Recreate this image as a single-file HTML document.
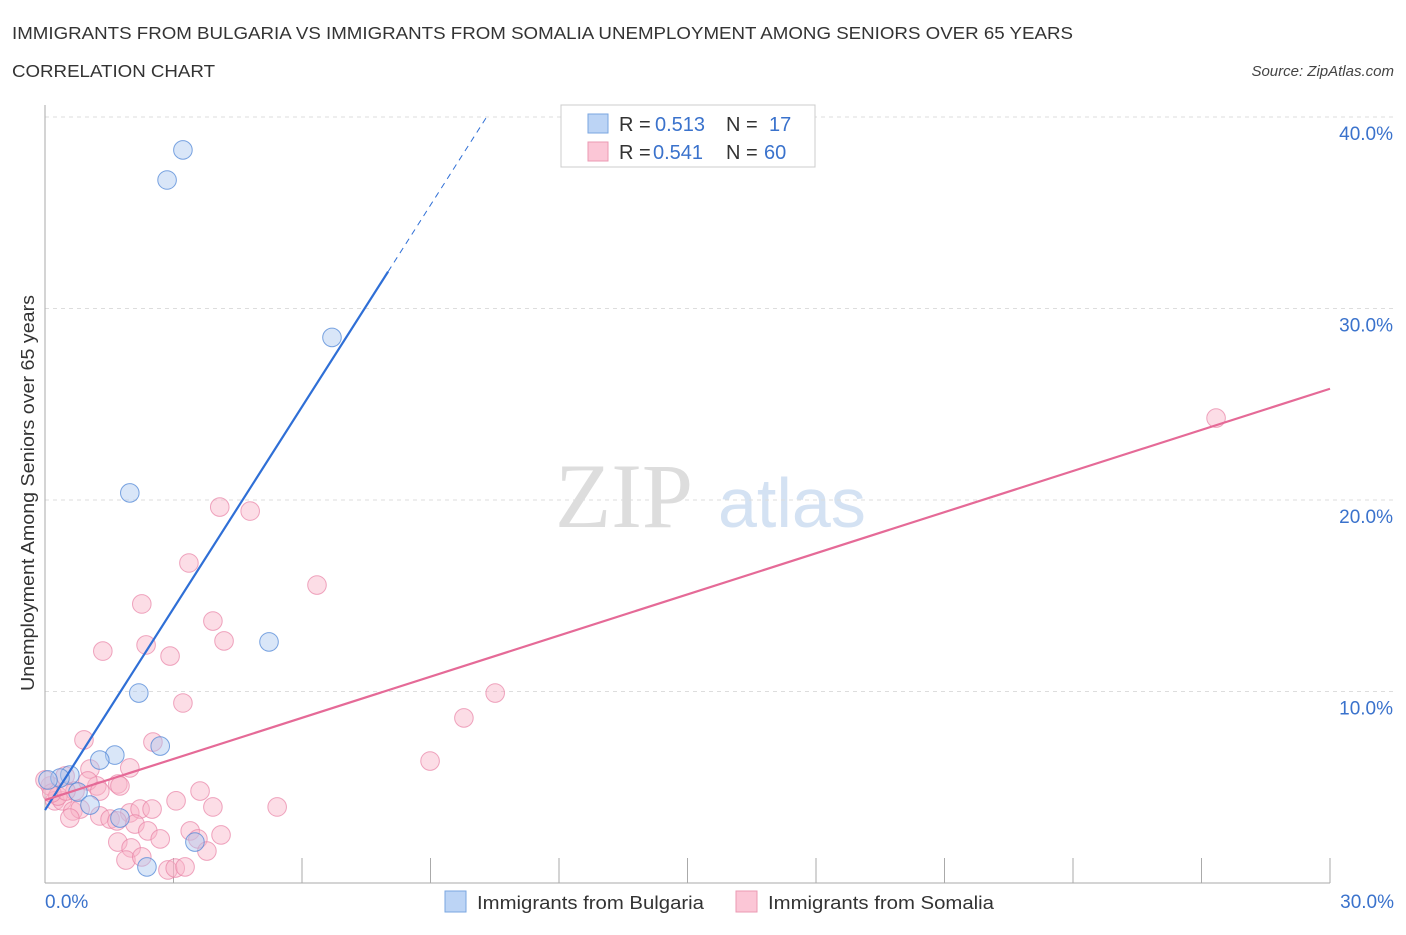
<!DOCTYPE html>
<html><head><meta charset="utf-8"><style>
body{margin:0;background:#fff;font-family:"Liberation Sans",sans-serif;}
</style></head><body>
<svg id="chart" width="1406" height="930" xmlns="http://www.w3.org/2000/svg" style="font-family:'Liberation Sans',sans-serif">
<text x="12" y="39" font-size="17.5" fill="#333" textLength="1061" lengthAdjust="spacingAndGlyphs">IMMIGRANTS FROM BULGARIA VS IMMIGRANTS FROM SOMALIA UNEMPLOYMENT AMONG SENIORS OVER 65 YEARS</text>
<text x="12" y="77" font-size="17.5" fill="#333" textLength="203" lengthAdjust="spacingAndGlyphs">CORRELATION CHART</text>
<text x="1394" y="76" font-size="15" fill="#444" text-anchor="end" font-style="italic">Source: ZipAtlas.com</text>
<text x="555" y="527" font-size="92" fill="#ddd" font-family="Liberation Serif">ZIP</text>
<text x="718" y="527" font-size="70" fill="#d4e2f3">atlas</text>
<g id="grid"></g>
<g id="axes"></g>
<g id="marks"></g>
<text transform="translate(34,493) rotate(-90)" font-size="18.5" fill="#333" text-anchor="middle" textLength="396" lengthAdjust="spacingAndGlyphs">Unemployment Among Seniors over 65 years</text>
<g>
<rect x="561" y="105" width="254" height="62" fill="#fff" stroke="#ccc"/>
<rect x="588" y="114" width="20" height="19" fill="#bcd4f5" stroke="#7aa6e0"/>
<rect x="588" y="142" width="20" height="19" fill="#fbc6d6" stroke="#eb99b3"/>
<text x="619" y="131" font-size="20" fill="#333">R =</text>
<text x="655" y="131" font-size="20" fill="#3a72cc">0.513</text>
<text x="726" y="131" font-size="20" fill="#333">N =</text>
<text x="769" y="131" font-size="20" fill="#3a72cc">17</text>
<text x="619" y="159" font-size="20" fill="#333">R =</text>
<text x="653" y="159" font-size="20" fill="#3a72cc">0.541</text>
<text x="726" y="159" font-size="20" fill="#333">N =</text>
<text x="764" y="159" font-size="20" fill="#3a72cc">60</text>
</g>
<g>
<rect x="445" y="891" width="21" height="21" fill="#bcd4f5" stroke="#7aa6e0"/>
<text x="477" y="909" font-size="18.5" fill="#333" textLength="227" lengthAdjust="spacingAndGlyphs">Immigrants from Bulgaria</text>
<rect x="736" y="891" width="21" height="21" fill="#fbc6d6" stroke="#eb99b3"/>
<text x="768" y="909" font-size="18.5" fill="#333" textLength="226" lengthAdjust="spacingAndGlyphs">Immigrants from Somalia</text>
</g>
</svg>
<script>
const yTicks=[10,20,30,40];
const yTickLabels=["10.0%","20.0%","30.0%","40.0%"];
const xTickLabels=["0.0%","30.0%"];
const bulgariaX=[3.22,2.85,6.70,1.98,5.23,2.19,2.69,1.63,1.28,0.58,0.35,0.07,0.77,1.05,1.75,3.50,2.38];
const bulgariaY=[38.28,36.71,28.49,20.37,12.59,9.92,7.15,6.68,6.42,5.64,5.48,5.38,4.75,4.07,3.39,2.14,0.84];
const somaliaX=[27.34,4.08,4.79,3.36,6.35,2.26,3.92,4.18,2.36,2.92,1.35,3.22,10.51,9.78,8.99,2.52,0.91,1.05,1.98,1.70,1.21,1.75,0.47,0.12,0.23,0.40,0.70,0.65,0.82,0.58,1.28,1.52,1.98,2.22,1.68,2.10,2.40,2.69,3.06,3.62,3.92,5.42,3.39,3.57,4.11,3.78,1.70,2.01,1.89,2.26,2.87,3.04,3.27,0.30,0.16,1.00,0.49,0.0,2.50,1.28];
const somaliaY=[24.28,19.63,19.42,16.71,15.56,14.57,13.68,12.64,12.43,11.85,12.11,9.40,9.92,8.62,6.37,7.36,7.47,5.95,6.01,5.17,5.07,5.07,5.59,5.07,4.29,4.29,4.80,3.76,3.86,3.39,3.50,3.34,3.66,3.86,3.24,3.08,2.72,2.30,4.29,4.80,3.97,3.97,2.72,2.30,2.51,1.67,2.14,1.83,1.20,1.36,0.68,0.78,0.84,4.54,4.70,5.33,4.80,5.38,3.86,4.80];
const bulgariaFit=[3.81,3.51];
const somaliaFit=[4.33,0.716];
const NS='http://www.w3.org/2000/svg';
const X=v=>45+v*1285/30, Y=v=>883-v*19.15;
function mk(t,a,p){const e=document.createElementNS(NS,t);for(const k in a)e.setAttribute(k,a[k]);p.appendChild(e);return e;}
const grid=document.getElementById('grid'),axes=document.getElementById('axes'),marks=document.getElementById('marks');
yTicks.forEach((t,i)=>{
 const l=mk('line',{x1:45,x2:1394,y1:Y(t),y2:Y(t),stroke:'#ddd','stroke-dasharray':'4,4'},grid);
 
 
 const tx=mk('text',{x:1393,y:Y(t)+23,'font-size':19,fill:'#3a72cc','text-anchor':'end'},axes);
 tx.textContent=yTickLabels[i];
 
 
});
const ax=mk('line',{x1:45,x2:45,y1:105,y2:883,stroke:'#aaa'},axes);


const bx=mk('line',{x1:45,x2:1330,y1:883,y2:883,stroke:'#aaa'},axes);


for(let i=0;i<=10;i++){const tk=mk('line',{x1:X(i*3),x2:X(i*3),y1:858,y2:883,stroke:'#aaa'},axes);
 
 }
[[0,'start',45],[1,'end',1394]].forEach(([i,a,x])=>{const t=mk('text',{x:x,y:908,'font-size':19,fill:'#3a72cc','text-anchor':a},axes);t.textContent=xTickLabels[i];
 
 });
somaliaX.forEach((x,i)=>{const c=mk('circle',{cx:X(x),cy:Y(somaliaY[i]),r:9.3,fill:'rgba(248,180,200,0.45)',stroke:'rgba(232,130,165,0.7)'},marks);
 
 });
bulgariaX.forEach((x,i)=>{const c=mk('circle',{cx:X(x),cy:Y(bulgariaY[i]),r:9.3,fill:'rgba(170,200,240,0.45)',stroke:'rgba(80,135,215,0.75)'},marks);
 
 });
const bEnd=8.01, bDash=(40-bulgariaFit[0])/bulgariaFit[1];
const bl=mk('line',{x1:X(0),y1:Y(bulgariaFit[0]),x2:X(bEnd),y2:Y(bulgariaFit[0]+bulgariaFit[1]*bEnd),stroke:'#2f6fd6','stroke-width':2.2},marks);


const bd=mk('line',{x1:X(bEnd),y1:Y(bulgariaFit[0]+bulgariaFit[1]*bEnd),x2:X(bDash),y2:Y(40),stroke:'#2f6fd6','stroke-width':1,'stroke-dasharray':'6,5'},marks);


const sl=mk('line',{x1:X(0),y1:Y(somaliaFit[0]),x2:X(30),y2:Y(somaliaFit[0]+somaliaFit[1]*30),stroke:'#e56a97','stroke-width':2.2},marks);


</script>
</body></html>
